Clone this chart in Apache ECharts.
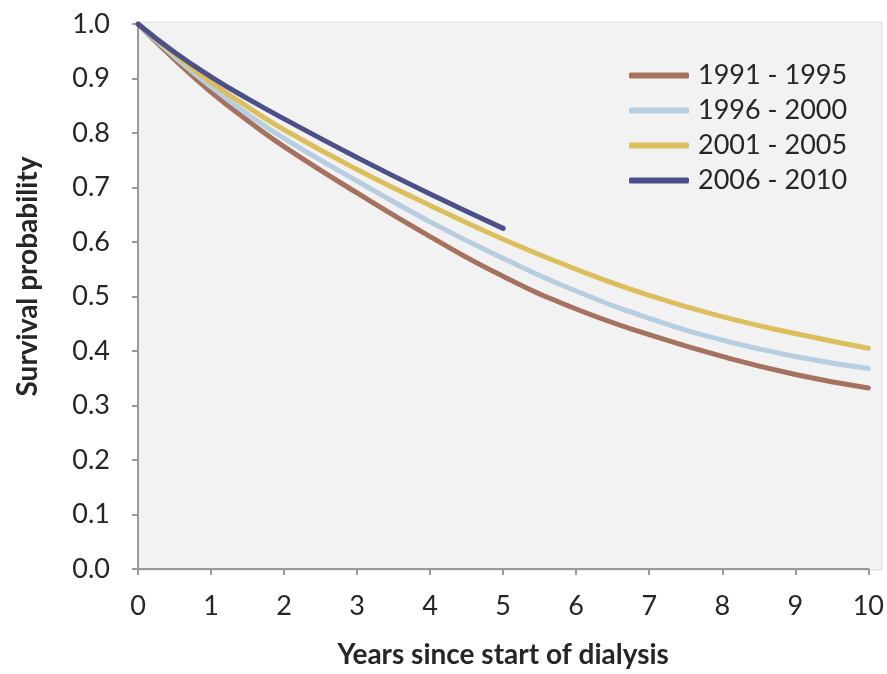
<!DOCTYPE html>
<html>
<head>
<meta charset="utf-8">
<script src="https://cdn.jsdelivr.net/npm/echarts@6/dist/echarts.min.js"></script>
<style>
  html, body { margin: 0; padding: 0; background: #fff; }
</style>
</head>
<body>
<div id="main" style="width: 887px;height: 674px;"></div>
<script>
  // years since start of dialysis
  const years = [0, 0.5, 1, 1.5, 2, 3, 4, 5, 6, 7, 8, 9, 10];
  const seriesNames = ['1991 - 1995', '1996 - 2000', '2001 - 2005', '2006 - 2010'];
  const surv1991 = [1.0, 0.935, 0.875, 0.823, 0.775, 0.69, 0.61, 0.537, 0.477, 0.43, 0.39, 0.357, 0.332];
  const surv1996 = [1.0, 0.94, 0.885, 0.835, 0.79, 0.712, 0.637, 0.57, 0.51, 0.46, 0.42, 0.39, 0.368];
  const surv2001 = [1.0, 0.945, 0.893, 0.848, 0.806, 0.733, 0.667, 0.605, 0.55, 0.502, 0.463, 0.432, 0.405];
  const surv2006 = [1.0, 0.948, 0.903, 0.863, 0.826, 0.755, 0.688, 0.625];
  const colors = ['#a57260', '#b7cde0', '#dcbf5c', '#4b5188'];

  const chartDom = document.getElementById('main');
  const myChart = echarts.init(chartDom);

  const allValues = [surv1991, surv1996, surv2001, surv2006];
  const font = 'Lato, "Open Sans", sans-serif';

  const option = {
    animation: false,
    color: colors,
    textStyle: { fontFamily: font },
    graphic: [{
      type: 'rect',
      z: -10,
      shape: { x: 138, y: 22, width: 744, height: 548 },
      style: { fill: '#f2f2f2', stroke: '#dddddd', lineWidth: 1 }
    }],
    grid: {
      left: 138,
      right: 16,
      top: 24,
      bottom: 104
    },
    legend: {
      orient: 'vertical',
      left: 624,
      top: 57,
      itemWidth: 60,
      itemHeight: 6,
      itemGap: 8,
      icon: 'roundRect',
      textStyle: { fontSize: 27, color: '#262626', fontFamily: font, padding: [0, 0, 0, 4] },
      data: seriesNames
    },
    xAxis: {
      type: 'value',
      min: 0,
      max: 10,
      interval: 1,
      name: 'Years since start of dialysis',
      nameLocation: 'middle',
      nameGap: 72,
      nameTextStyle: { fontSize: 28, fontWeight: 'bold', color: '#262626' },
      axisLine: { lineStyle: { color: '#999', width: 2 } },
      axisTick: { show: true, length: 6, lineStyle: { color: '#999', width: 2 } },
      axisLabel: { fontSize: 27, color: '#262626', margin: 24 },
      splitLine: { show: false }
    },
    yAxis: {
      type: 'value',
      min: 0,
      max: 1,
      interval: 0.1,
      name: 'Survival probability',
      nameLocation: 'middle',
      nameGap: 96,
      nameTextStyle: { fontSize: 28, fontWeight: 'bold', color: '#262626', padding: [0, 0, 0, 40] },
      axisLine: { show: true, lineStyle: { color: '#999', width: 2 } },
      axisTick: { show: true, length: 6, lineStyle: { color: '#999', width: 2 } },
      axisLabel: {
        fontSize: 27,
        color: '#262626',
        margin: 28,
        formatter: (v) => v.toFixed(1)
      },
      splitLine: { show: false }
    },
    series: seriesNames.map((name, i) => ({
      name: name,
      type: 'line',
      smooth: true,
      showSymbol: false,
      symbol: 'none',
      lineStyle: { width: 5, color: colors[i], cap: 'round' },
      itemStyle: { color: colors[i] },
      data: allValues[i].map((v, j) => [years[j], v])
    }))
  };

  option && myChart.setOption(option);

  window.addEventListener('resize', () => {
    myChart.resize();
  });
</script>
</body>
</html>
